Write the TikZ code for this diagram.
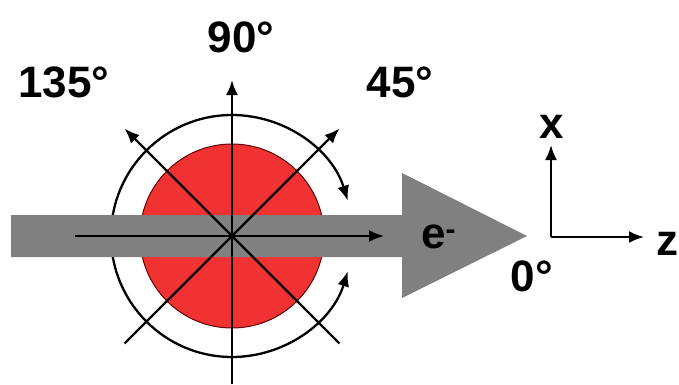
\documentclass[tikz,border=0pt]{standalone}
\usepackage{fontspec}
\setmainfont{Liberation Sans}
\usetikzlibrary{arrows.meta,calc}
\definecolor{ballred}{RGB}{240,50,50}
\definecolor{beamgray}{RGB}{128,128,128}
\begin{document}
\begin{tikzpicture}[x=1pt,y=1pt,
  lbl/.style={font=\fontsize{44}{44}\selectfont\bfseries, inner sep=0pt},
  axisline/.style={line width=2.3pt, draw=black},
  tipped/.style={axisline, -{Latex[length=15pt,width=12pt]}},
  arcline/.style={line width=2.3pt, draw=black, -{Latex[length=15pt,width=12pt]}}]
\useasboundingbox (0,0) rectangle (679,384);
\fill[white] (0,0) rectangle (679,384);
\coordinate (C) at (232,148);
% red sphere
\draw[fill=ballred, draw=black!60!red, line width=1pt] (C) circle[radius=92];
% outer rotation arcs
\draw[arcline] ($(C)+(180:121)$) arc[start angle=180, end angle=17, radius=121];
\draw[arcline] ($(C)+(180:121)$) arc[start angle=180, end angle=343, radius=121];
% electron beam
\fill[beamgray] (11,127) -- (402,127) -- (402,86) -- (527,148) -- (402,211) -- (402,169) -- (11,169) -- cycle;
% axes through the sphere
\coordinate (top) at (232,304);
\coordinate (bot) at (232,0);
\coordinate (d135) at ($(C)+(135:152)$);
\coordinate (d45) at ($(C)+(45:152)$);
\coordinate (dm135) at ($(C)+(-135:152)$);
\coordinate (dm45) at ($(C)+(-45:152)$);
\coordinate (hstart) at (75,148);
\coordinate (hend) at (384,148);
\draw[axisline] (bot) -- (C);
\draw[tipped] (C) -- (top);
\draw[tipped] (C) -- (d135);
\draw[tipped] (C) -- (d45);
\draw[axisline] (C) -- (dm135);
\draw[axisline] (C) -- (dm45);
\draw[tipped] (hstart) -- (hend);
% labels
\node[lbl] (l90) at (241,347) {90\textdegree};
\node[lbl] (l135) at (64,302) {135\textdegree};
\node[lbl] (l45) at (400,302) {45\textdegree};
\node[lbl] (l0) at (532,108) {0\textdegree};
\node[lbl, anchor=west] (le) at (421,147) {e\textsuperscript{\fontsize{30}{30}\selectfont -}};
% coordinate frame
\coordinate (O) at (551,147);
\coordinate (xt) at (551,239);
\coordinate (zt) at (644,147);
\draw[tipped] (O) -- (xt);
\draw[tipped] (O) -- (zt);
\node[lbl] (lx) at (552,257) {x};
\node[lbl] (lz) at (667,140) {z};
\end{tikzpicture}
\end{document}
